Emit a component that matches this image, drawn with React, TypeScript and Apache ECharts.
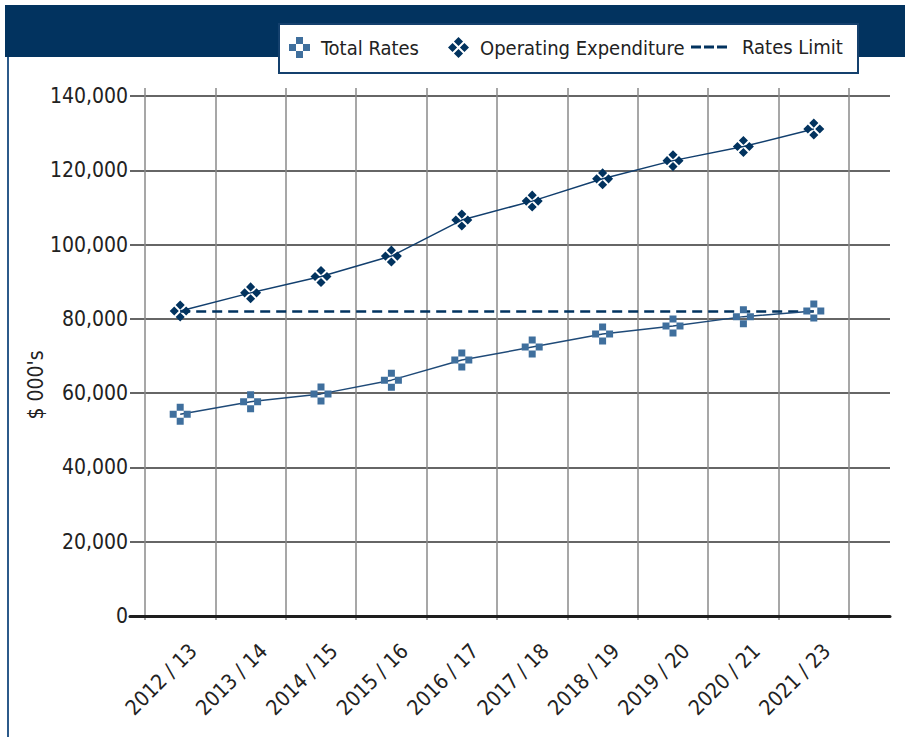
import React, { useEffect, useRef } from "react";
import * as echarts from "echarts";

const categories = [
  "2012 / 13",
  "2013 / 14",
  "2014 / 15",
  "2015 / 16",
  "2016 / 17",
  "2017 / 18",
  "2018 / 19",
  "2019 / 20",
  "2020 / 21",
  "2021 / 23",
];
const totalRates = [54300, 57700, 59800, 63500, 68900, 72400, 75900, 78100, 80600, 82100];
const operatingExpenditure = [82100, 87000, 91400, 96900, 106600, 111700, 117700, 122600, 126400, 131100];
const ratesLimit = [82000, 82000, 82000, 82000, 82000, 82000, 82000, 82000, 82000, 82000];
const yMin = 0;
const yMax = 140000;
const yStep = 20000;

const FONT = "'DejaVu Sans Condensed', 'Liberation Sans Narrow', sans-serif";
const NAVY = "#02335f";
const STEEL = "#3f6f9d";

const PLUS_PATH = "path://M1 0H2V1H1Z M0 1H1V2H0Z M2 1H3V2H2Z M1 2H2V3H1Z";
const DIAMONDS_PATH =
  "path://M10 0.3L14.2 4.5L10 8.7L5.8 4.5Z M15.5 5.8L19.7 10L15.5 14.2L11.3 10Z M10 11.3L14.2 15.5L10 19.7L5.8 15.5Z M4.5 5.8L8.7 10L4.5 14.2L0.3 10Z";
const DASH_PATH = "path://M0 0H10V3H0Z M13 0H23V3H13Z M26 0H36V3H26Z";

export default function App() {
  const ref = useRef<HTMLDivElement>(null);
  useEffect(() => {
    if (!ref.current) return;
    const chart = echarts.init(ref.current, undefined, { renderer: "svg" });

    // grid 0 spans 88..620 vertically; map so 0 -> 616 and 140000 -> 96
    const pxPerUnit = 520 / (yMax - yMin);
    const g0Max = yMax + 8 / pxPerUnit;
    const g0Min = yMin - 4 / pxPerUnit;

    const legendText = { fontFamily: FONT, fontSize: 20, color: "#222" };

    chart.setOption({
      animation: false,
      backgroundColor: "#ffffff",
      textStyle: { fontFamily: FONT },
      graphic: [
        { type: "rect", z: 1, shape: { x: 5, y: 5, width: 900, height: 52 }, style: { fill: NAVY } },
        { type: "rect", z: 1, shape: { x: 7, y: 57, width: 2, height: 680 }, style: { fill: "#2c5a8a" } },
        {
          type: "rect",
          z: 2,
          shape: { x: 279, y: 24, width: 579, height: 49 },
          style: { fill: "#ffffff", stroke: "#14406d", lineWidth: 2 },
        },
        {
          type: "text",
          z: 2,
          x: 36,
          y: 385,
          rotation: Math.PI / 2,
          style: {
            text: "$ 000's",
            fontFamily: FONT,
            fontSize: 21,
            fill: "#222",
            textAlign: "center",
            textVerticalAlign: "middle",
          },
        },
      ],
      legend: [
        {
          data: [{ name: "Total Rates", icon: PLUS_PATH }],
          left: 289,
          top: 37,
          padding: 0,
          itemWidth: 21,
          itemHeight: 21,
          textStyle: { ...legendText, padding: [0, 0, 0, 6] },
          z: 10,
        },
        {
          data: [{ name: "Operating Expenditure", icon: DIAMONDS_PATH }],
          left: 448,
          top: 37,
          padding: 0,
          itemWidth: 21,
          itemHeight: 21,
          textStyle: { ...legendText, padding: [0, 0, 0, 6] },
          z: 10,
        },
        {
          data: [{ name: "Rates Limit", icon: DASH_PATH }],
          left: 691,
          top: 37,
          padding: 0,
          itemWidth: 36,
          itemHeight: 21,
          textStyle: { ...legendText, padding: [0, 0, 0, 10] },
          z: 10,
        },
      ],
      grid: [
        { left: 145, top: 88, width: 704, height: 532 },
        { left: 130, top: 96, width: 760, height: 520 },
      ],
      xAxis: [
        {
          type: "category",
          gridIndex: 0,
          data: categories,
          boundaryGap: true,
          axisLine: { show: false },
          axisTick: { show: false },
          splitLine: { show: true, interval: 0, lineStyle: { color: "#8a8a8a", width: 1.5 } },
          axisLabel: {
            interval: 0,
            rotate: 45,
            fontFamily: FONT,
            fontSize: 21,
            color: "#222",
            margin: 6,
            verticalAlign: "top",
            padding: [14, 6, 0, 0],
          },
        },
        {
          type: "value",
          gridIndex: 1,
          min: 0,
          max: 1,
          axisLine: { show: true, lineStyle: { color: "#1e1e1e", width: 3 } },
          axisTick: { show: false },
          axisLabel: { show: false },
          splitLine: { show: false },
        },
      ],
      yAxis: [
        {
          type: "value",
          gridIndex: 0,
          min: g0Min,
          max: g0Max,
          show: false,
          splitLine: { show: false },
        },
        {
          type: "value",
          gridIndex: 1,
          min: yMin,
          max: yMax,
          interval: yStep,
          axisLine: { show: false },
          axisTick: { show: false },
          axisLabel: {
            fontFamily: FONT,
            fontSize: 21,
            color: "#222",
            margin: 2,
            formatter: (v: number) => v.toLocaleString("en-US"),
          },
          splitLine: { show: true, lineStyle: { color: "#333", width: 1.5 } },
        },
      ],
      series: [
        {
          name: "Total Rates",
          type: "line",
          xAxisIndex: 0,
          yAxisIndex: 0,
          data: totalRates,
          symbol: PLUS_PATH,
          symbolSize: 21,
          itemStyle: { color: STEEL },
          lineStyle: { color: "#1f4a78", width: 1.5 },
          z: 5,
        },
        {
          name: "Operating Expenditure",
          type: "line",
          xAxisIndex: 0,
          yAxisIndex: 0,
          data: operatingExpenditure,
          symbol: DIAMONDS_PATH,
          symbolSize: 21,
          itemStyle: { color: NAVY },
          lineStyle: { color: "#123f6e", width: 1.5 },
          z: 5,
        },
        {
          name: "Rates Limit",
          type: "line",
          xAxisIndex: 0,
          yAxisIndex: 0,
          data: ratesLimit,
          symbol: "none",
          itemStyle: { color: NAVY },
          lineStyle: { color: NAVY, width: 2.5, type: [10, 6] },
          z: 3,
        },
      ],
    });
    return () => chart.dispose();
  }, []);

  return (
    <div
      ref={ref}
      style={{ position: "fixed", left: 0, top: 0, width: 905, height: 737 }}
    />
  );
}
